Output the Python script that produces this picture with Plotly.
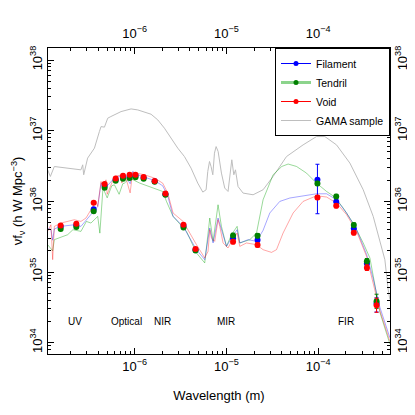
import numpy as np
import plotly.graph_objects as go

# ---------------- data ----------------
# photometric bands (wavelength in metres)
band_wl = [1.56e-7, 2.31e-7, 3.57e-7, 4.70e-7, 6.2e-7, 7.45e-7, 8.8e-7, 1.02e-6, 1.25e-6,
           1.65e-6, 2.16e-6, 3.4e-6, 4.6e-6, 1.18e-5, 2.18e-5, 9.8e-5, 1.57e-4, 2.44e-4,
           3.39e-4, 4.32e-4]
# log10 of nu f_nu (h W Mpc^-3)
fil_log = [35.641, 35.662, 35.888, 36.220, 36.305, 36.340, 36.355, 36.362, 36.333, 36.284,
           36.100, 35.655, 35.316, 35.479, 35.453, 36.305, 35.994, 35.617, 35.119, 34.554]
ten_log = [35.609, 35.637, 35.860, 36.192, 36.291, 36.319, 36.329, 36.340, 36.319, 36.277,
           36.093, 35.631, 35.306, 35.518, 35.514, 36.253, 36.069, 35.665, 35.151, 34.586]
void_log = [35.660, 35.684, 35.980, 36.244, 36.323, 36.362, 36.376, 36.376, 36.343, 36.287,
            36.110, 35.669, 35.326, 35.429, 35.383, 36.055, 35.938, 35.556, 35.062, 34.530]
# errors in dex (upper, lower)
fil_err_hi = [0.01]*13 + [0.03, 0.03, 0.22, 0.03, 0.03, 0.04, 0.08]
fil_err_lo = [0.01]*13 + [0.03, 0.03, 0.48, 0.03, 0.03, 0.04, 0.12]
ten_err_hi = [0.01]*13 + [0.03, 0.03, 0.03, 0.03, 0.03, 0.04, 0.10]
ten_err_lo = [0.01]*13 + [0.03, 0.03, 0.03, 0.03, 0.03, 0.04, 0.10]
void_err_hi = [0.01]*13 + [0.03, 0.03, 0.03, 0.03, 0.03, 0.04, 0.10]
void_err_lo = [0.01]*13 + [0.03, 0.03, 0.03, 0.03, 0.03, 0.04, 0.10]

# model SEDs: log10 wavelength (m) and log10 nu f_nu
void_sed_lwl = [-6.949, -6.913, -6.894, -6.876, -6.804, -6.658, -6.586, -6.531, -6.477, -6.422,
                -6.403, -6.367, -6.35, -6.313, -6.30, -6.221, -6.16, -6.14, -6.112, -6.05,
                -6.022, -5.986, -5.894,
                -5.785, -5.695, -5.640, -5.582, -5.473, -5.327, -5.237, -5.201, -5.182, -5.164,
                -5.128, -5.092, -5.073, -5.037, -4.983, -4.945, -4.884, -4.855, -4.782, -4.673,
                -4.601, -4.509, -4.455, -4.383, -4.274, -4.165, -4.019, -3.909, -3.800, -3.691,
                -3.582, -3.473, -3.400, -3.328, -3.219]
void_sed_log = [35.575, 35.669, 35.175, 35.646, 35.693, 35.740, 35.716, 35.764, 35.881, 35.999,
                35.928, 36.281, 36.18, 36.305, 36.10, 36.352, 36.37, 36.26, 36.400, 36.12,
                36.414, 36.400, 36.376,
                36.329, 36.258, 36.117, 35.835, 35.716, 35.387, 35.199, 35.292, 35.599, 35.482,
                35.434, 35.740, 35.646, 35.411, 35.340, 35.434, 35.552, 35.363, 35.411, 35.387,
                35.316, 35.278, 35.316, 35.552, 35.835, 35.999, 36.079, 36.061, 35.976, 35.811,
                35.575, 35.220, 34.850, 34.450, 34.020]
fil_sed_lwl = [-6.949, -6.913, -6.894, -6.876, -6.804, -6.658, -6.586, -6.477, -6.403, -6.367,
               -6.30, -6.221, -6.112, -6.05, -6.022, -5.967, -5.894, -5.785, -5.695, -5.640,
               -5.582, -5.473,
               -5.327, -5.237, -5.182, -5.146, -5.092, -5.055, -5.000, -4.945, -4.884, -4.855,
               -4.764, -4.673, -4.601, -4.528, -4.419, -4.310, -4.165, -4.019, -3.909, -3.800,
               -3.691, -3.582, -3.473, -3.400, -3.328, -3.219]
fil_sed_log = [35.623, 35.600, 35.450, 35.610, 35.646, 35.669, 35.646, 35.811, 35.928, 36.258,
               36.22, 36.329, 36.376, 36.25, 36.422, 36.376, 36.343, 36.295, 36.220, 36.079,
               35.787, 35.646,
               35.316, 35.175, 35.623, 35.411, 35.764, 35.599, 35.363, 35.482, 35.599, 35.411,
               35.458, 35.434, 35.590, 35.835, 35.999, 36.047, 36.079, 36.107, 36.107, 36.023,
               35.835, 35.599, 35.250, 34.900, 34.500, 34.070]
ten_sed_lwl = [-6.949, -6.894, -6.876, -6.731, -6.673, -6.586, -6.527, -6.477, -6.403, -6.38,
               -6.346, -6.30, -6.25, -6.221, -6.17, -6.13, -6.112, -6.055, -5.945, -5.800,
               -5.695, -5.654, -5.582, -5.436,
               -5.327, -5.237, -5.182, -5.146, -5.092, -5.055, -5.000, -4.945, -4.884, -4.855,
               -4.746, -4.673, -4.601, -4.492, -4.397, -4.328, -4.237, -4.128, -4.019, -3.909,
               -3.819, -3.728, -3.619, -3.510, -3.437, -3.328, -3.219]
ten_sed_log = [35.387, 35.300, 35.458, 35.528, 35.599, 35.575, 35.716, 35.693, 35.787, 35.55,
               36.188, 36.05, 36.22, 36.234, 36.10, 36.25, 36.258, 36.329, 36.258, 36.188,
               36.140, 35.999, 35.787, 35.575,
               35.270, 35.129, 35.764, 35.434, 35.952, 35.646, 35.363, 35.528, 35.646, 35.411,
               35.458, 35.550, 36.023, 36.376, 36.494, 36.528, 36.494, 36.400, 36.258, 36.140,
               36.061, 35.905, 35.693, 35.411, 35.199, 34.430, 33.980]
# GAMA sample mean SED
gama_lwl = [-6.949, -6.919, -6.876, -6.731, -6.586, -6.567, -6.556, -6.513, -6.439, -6.385,
            -6.367, -6.33, -6.294, -6.26, -6.221, -6.149, -6.040, -5.967, -5.822, -5.749, -5.676, -5.604,
            -5.531, -5.458, -5.386, -5.313, -5.258, -5.222, -5.204, -5.185, -5.168, -5.149,
            -5.131, -5.113, -5.091, -5.055, -5.019, -4.983, -4.956, -4.942, -4.920, -4.902,
            -4.874, -4.819, -4.710, -4.601, -4.492, -4.346, -4.165, -4.019, -3.928, -3.801,
            -3.655, -3.510, -3.401, -3.328, -3.274, -3.238, -3.219]
gama_log = [36.446, 36.352, 36.493, 36.470, 36.446, 36.517, 36.376, 36.612, 36.753, 36.987,
            37.058, 37.05, 37.177, 37.20, 37.223, 37.270, 37.308, 37.294, 37.233, 37.153, 37.035, 36.894,
            36.753, 36.634, 36.470, 36.258, 36.131, 36.164, 36.422, 36.564, 36.493, 36.376,
            36.682, 36.775, 36.705, 36.400, 36.188, 36.140, 36.400, 36.588, 36.376, 36.446,
            36.210, 36.117, 36.093, 36.164, 36.352, 36.634, 36.799, 36.917, 36.917, 36.799,
            36.541, 36.164, 35.787, 35.411, 35.175, 34.751, 34.610]

region_names = ["UV", "Optical", "NIR", "MIR", "FIR"]
region_wl = [2.25e-7, 8.1e-7, 2.02e-6, 1.0e-5, 1.99e-4]
region_y = 2.0e34

x_major = [1e-6, 1e-5, 1e-4]
x_major_text = ["10<sup>−6</sup>", "10<sup>−5</sup>", "10<sup>−4</sup>"]
y_major = [1e34, 1e35, 1e36, 1e37, 1e38]
y_major_text = ["10<sup>34</sup>", "10<sup>35</sup>", "10<sup>36</sup>", "10<sup>37</sup>", "10<sup>38</sup>"]

# ---------------- figure ----------------
FONT = "Liberation Sans, Arial, Helvetica, sans-serif"
x_minor = [m * 10.0**e for e in range(-8, -2) for m in range(2, 10)]
y_minor = [m * 10.0**e for e in range(33, 39) for m in range(2, 10)]
xr = [-6.945, -3.218]
yr = [33.84, 38.17]

fig = go.Figure()

def p10(a):
    return [10.0**v for v in a]

# GAMA
fig.add_trace(go.Scatter(x=p10(gama_lwl), y=p10(gama_log), mode="lines",
                         line=dict(color="rgb(190,190,190)", width=1), showlegend=False))
# model curves
fig.add_trace(go.Scatter(x=p10(ten_sed_lwl), y=p10(ten_sed_log), mode="lines",
                         line=dict(color="rgba(0,160,0,0.4)", width=1), showlegend=False))
fig.add_trace(go.Scatter(x=p10(fil_sed_lwl), y=p10(fil_sed_log), mode="lines",
                         line=dict(color="rgba(0,0,255,0.35)", width=1), showlegend=False))
fig.add_trace(go.Scatter(x=p10(void_sed_lwl), y=p10(void_sed_log), mode="lines",
                         line=dict(color="rgba(255,0,0,0.35)", width=1), showlegend=False))

def pts(logs, ehi, elo, color):
    y = np.array(p10(logs))
    lg = np.array(logs)
    up = 10.0**(lg + np.array(ehi)) - y
    lo = y - 10.0**(lg - np.array(elo))
    return go.Scatter(x=band_wl, y=y, mode="markers",
                      marker=dict(color=color, size=6),
                      error_y=dict(type="data", symmetric=False, array=up, arrayminus=lo,
                                   color=color, thickness=1, width=2),
                      showlegend=False)

fig.add_trace(pts(fil_log, fil_err_hi, fil_err_lo, "#0000FF"))
fig.add_trace(pts(ten_log, ten_err_hi, ten_err_lo, "#008000"))
fig.add_trace(pts(void_log, void_err_hi, void_err_lo, "#FF0000"))

# legend entries
fig.add_trace(go.Scatter(x=[None], y=[None], mode="lines+markers", name="Filament",
                         line=dict(color="#0000FF", width=1), marker=dict(color="#0000FF", size=5)))
fig.add_trace(go.Scatter(x=[None], y=[None], mode="lines+markers", name="Tendril",
                         line=dict(color="rgba(0,160,0,0.45)", width=3), marker=dict(color="#008000", size=5)))
fig.add_trace(go.Scatter(x=[None], y=[None], mode="lines+markers", name="Void",
                         line=dict(color="#FF0000", width=1), marker=dict(color="#FF0000", size=5)))
fig.add_trace(go.Scatter(x=[None], y=[None], mode="lines", name="GAMA sample",
                         line=dict(color="rgb(190,190,190)", width=1)))
# dummy for secondary axes
fig.add_trace(go.Scatter(x=[None], y=[None], xaxis="x2", yaxis="y2", showlegend=False))

for name, wl in zip(region_names, region_wl):
    fig.add_annotation(x=np.log10(wl), y=np.log10(region_y), text=name, showarrow=False,
                       font=dict(size=10, color="black", family=FONT))

axis_common = dict(type="log", showgrid=False, zeroline=False, ticks="inside", ticklen=6,
                   tickwidth=1, tickcolor="black", linecolor="black", linewidth=1,
                   tickfont=dict(size=13, color="black", family=FONT), tickmode="array",
                   automargin=False)

fig.update_layout(
    width=415, height=415,
    margin=dict(l=40, r=33, t=40, b=69),
    paper_bgcolor="white", plot_bgcolor="white",
    font=dict(family=FONT, color="black"),
    xaxis=dict(**axis_common, range=xr, tickvals=x_major, ticktext=x_major_text, mirror=True,
               minor=dict(tickvals=x_minor, ticks="inside", ticklen=3, tickcolor="black"),
               title=dict(text="Wavelength (m)", font=dict(size=13), standoff=18)),
    yaxis=dict(**axis_common, range=yr, tickvals=y_major, ticktext=y_major_text, mirror=True,
               tickangle=-90,
               minor=dict(tickvals=y_minor, ticks="inside", ticklen=3, tickcolor="black"),
               title=dict(text="νf<sub>ν</sub> (h W Mpc<sup>−3</sup>)", font=dict(size=13), standoff=2)),
    xaxis2=dict(**axis_common, range=xr, tickvals=x_major, ticktext=x_major_text,
                overlaying="x", side="top", anchor="y", ticklabelstandoff=4,
                minor=dict(tickvals=x_minor, ticks="inside", ticklen=3, tickcolor="black")),
    yaxis2=dict(**axis_common, range=yr, tickvals=y_major, ticktext=y_major_text,
                overlaying="y", side="right", anchor="x", tickangle=-90,
                minor=dict(tickvals=y_minor, ticks="inside", ticklen=3, tickcolor="black")),
    legend=dict(x=1, y=1, xanchor="right", yanchor="top", bgcolor="white",
                bordercolor="black", borderwidth=1, font=dict(size=10.5, family=FONT),
                tracegroupgap=0, itemwidth=30),
)

fig.write_html("out.html")
